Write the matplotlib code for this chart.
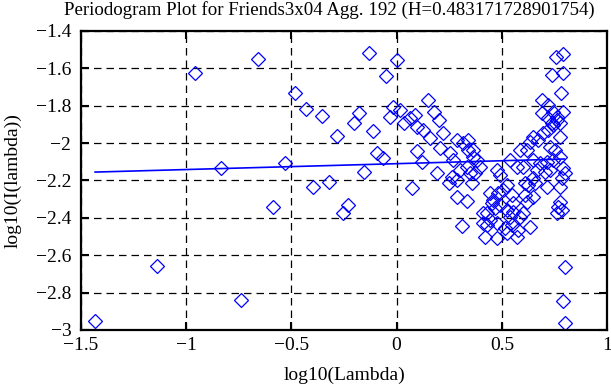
import matplotlib
matplotlib.use("Agg")
import matplotlib.pyplot as plt

plt.rcParams['font.family'] = ['Liberation Serif', 'DejaVu Serif']
plt.rcParams['axes.unicode_minus'] = True

# periodogram points: log10(lambda), log10(I(lambda))
log_lambda = [
    -1.433, -1.139, -0.958, -0.835, -0.740, -0.659, -0.587, -0.530, -0.483, -0.431,
    -0.397, -0.355, -0.321, -0.283, -0.255, -0.231, -0.202, -0.179, -0.155, -0.131,
    -0.112, -0.093, -0.065, -0.050, 0.002, -0.031, -0.017, 0.016, 0.035, 0.064,
    0.087, 0.097, 0.073, 0.097, 0.121, 0.149, 0.125, 0.159, 0.178, 0.202,
    0.192, 0.221, 0.206, 0.254, 0.268, 0.249, 0.287, 0.335, 0.311, 0.287,
    0.316, 0.339, 0.301, 0.358, 0.373, 0.363, 0.263, 0.287,
    0.339, 0.363, 0.382, 0.396, 0.335, 0.349, 0.477, 0.491, 0.525, 0.482,
    0.444, 0.458, 0.506, 0.548, 0.553, 0.453, 0.430, 0.411, 0.444, 0.468,
    0.491, 0.525, 0.539, 0.553, 0.587, 0.601, 0.411, 0.430, 0.477, 0.515,
    0.548, 0.634, 0.420, 0.477, 0.525, 0.572, 0.577,
    0.610, 0.625, 0.648, 0.667, 0.682, 0.715, 0.743, 0.705, 0.729, 0.620,
    0.648, 0.610, 0.658, 0.715, 0.777, 0.786, 0.620, 0.634, 0.648, 0.672,
    0.696, 0.720, 0.743, 0.762, 0.729, 0.753, 0.777, 0.791, 0.800, 0.691,
    0.720, 0.743, 0.720, 0.762, 0.777, 0.791, 0.739, 0.691, 0.777, 0.739,
    0.791, 0.758, 0.791, 0.781, 0.767, 0.786, 0.762, 0.777, 0.800, 0.791,
    0.800, 0.587, 0.601, 0.648, 0.572, 0.539,
]
log_I = [
    -2.952, -2.657, -1.625, -2.133, -2.839, -1.550, -2.342, -2.106, -1.732, -1.817,
    -2.235, -1.855, -2.208, -1.962, -2.374, -2.331, -1.892, -1.839, -2.154, -1.518,
    -1.935, -2.053, -2.080, -1.641, -1.555, -1.860, -1.807, -1.823, -1.892, -1.865,
    -1.849, -1.914, -2.240, -2.042, -2.101, -1.769, -1.930, -1.973, -1.833, -1.876,
    -2.160, -1.946, -2.026, -2.053, -2.090, -2.213, -2.288, -2.310, -2.443, -1.983,
    -1.999, -1.983, -2.144, -2.213, -2.160, -2.037, -2.181, -2.197,
    -2.037, -2.074, -2.090, -2.128, -2.128, -2.160, -2.144, -2.170, -2.224, -2.267,
    -2.267, -2.304, -2.251, -2.277, -2.320, -2.320, -2.374, -2.427, -2.411, -2.347,
    -2.331, -2.358, -2.395, -2.368, -2.395, -2.374, -2.374, -2.438, -2.427, -2.454,
    -2.438, -2.449, -2.502, -2.508, -2.481, -2.502, -2.465,
    -2.277, -2.224, -2.187, -2.144, -2.106, -2.101, -2.090, -2.154, -2.144, -2.315,
    -2.288, -2.213, -2.213, -2.235, -2.235, -2.187, -2.037, -1.994, -1.967, -1.983,
    -1.946, -1.930, -1.903, -1.876, -2.021, -2.037, -2.074, -2.133, -2.160, -1.839,
    -1.796, -1.833, -1.865, -1.860, -1.892, -1.833, -1.892, -1.769, -1.967, -1.635,
    -1.625, -1.539, -1.523, -1.732, -2.342, -2.358, -2.374, -2.315, -2.663, -2.845,
    -2.962, -2.037, -2.128, -2.090, -2.128, -2.090,
]

# least squares fit line (end points)
fit_x = [-1.433, 0.798]
fit_y = [-2.155, -2.085]

title = "Periodogram Plot for Friends3x04 Agg. 192 (H=0.483171728901754)"

fig = plt.figure(figsize=(6.11, 3.85), dpi=100)
ax = fig.add_axes([0.1326, 0.1429, 0.8609, 0.7766])

ax.plot(log_lambda, log_I, linestyle="none", marker="D", markersize=7.6,
        markerfacecolor="none", markeredgecolor="#0000ff", markeredgewidth=0.9)
ax.plot(fit_x, fit_y, color="#0000ff", linewidth=1.2)

ax.set_xlim(-1.5, 1)
ax.set_ylim(-3, -1.4)
ax.set_xticks([-1.5, -1, -0.5, 0, 0.5, 1])
ax.set_xticklabels(["\u22121.5", "\u22121", "\u22120.5", "0", "0.5", "1"])
ax.set_yticks([-3, -2.8, -2.6, -2.4, -2.2, -2, -1.8, -1.6, -1.4])
ax.set_yticklabels(["\u22123", "\u22122.8", "\u22122.6", "\u22122.4", "\u22122.2",
                    "\u22122", "\u22121.8", "\u22121.6", "\u22121.4"])
ax.grid(True, color="black", linestyle=(0, (6, 4)), linewidth=0.9)
ax.tick_params(direction="in", top=True, right=True, length=6, width=1.5,
               labelsize=14)
ax.tick_params(axis="x", pad=5)
ax.tick_params(axis="y", pad=7)
for s in ax.spines.values():
    s.set_linewidth(1.6)

ax.set_xlabel("log10(Lambda)", fontsize=14, labelpad=9)
ax.set_ylabel("log10(I(lambda))", fontsize=14, labelpad=10)
fig.text(64 / 611, 0.973, title, fontsize=13.6, ha="left", va="center")

fig.savefig("out.png", dpi=100)
